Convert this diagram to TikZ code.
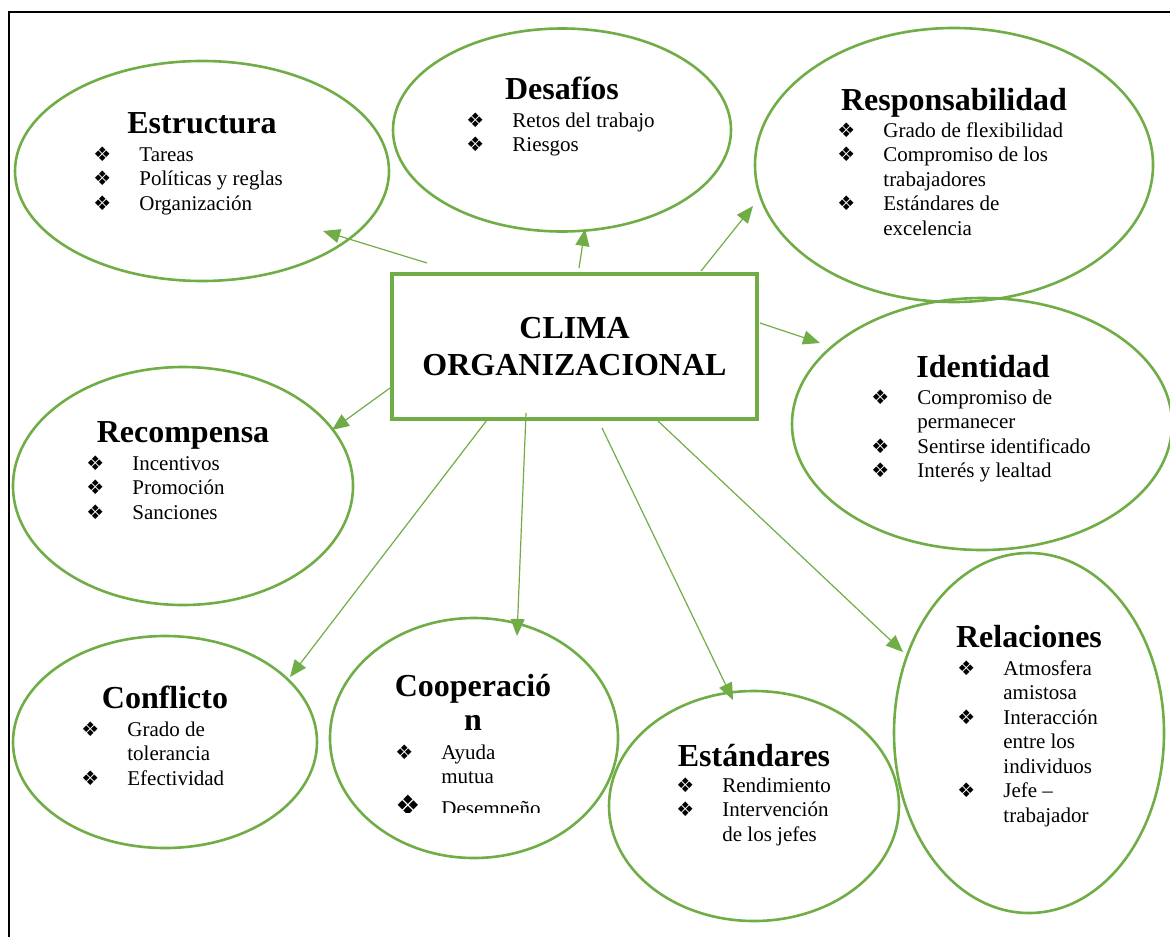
\documentclass[tikz,border=0pt]{standalone}
\usepackage{fontspec}
\setmainfont{Liberation Serif}
\newfontfamily\dejavu{DejaVu Sans}
\usetikzlibrary{shapes.geometric,arrows.meta}
\definecolor{verde}{RGB}{112,173,71}
\newcommand{\vin}{{\dejavu\fontsize{10pt}{10pt}\selectfont ❖}}
\newcommand{\listado}[1]{\begin{tabular}[t]{@{}p{23pt}@{}l@{}}#1\end{tabular}}
\begin{document}
\begin{tikzpicture}[x=0.5pt,y=-0.5pt,
    globo/.style={draw=verde, line width=1.3pt, ellipse, inner sep=0pt},
    caja/.style={draw=verde, line width=1.6pt, inner sep=0pt, align=center,
      font=\fontsize{16pt}{18.5pt}\selectfont\bfseries},
    titulo/.style={anchor=base, inner sep=0pt, font=\fontsize{16pt}{18.5pt}\selectfont\bfseries},
    lista/.style={anchor=base west, inner sep=0pt, font=\fontsize{10.5pt}{12.25pt}\selectfont},
    flecha/.style={draw=verde, line width=0.6pt, -{Triangle[length=8.5pt,width=7pt]}}]
  \useasboundingbox (0,0) rectangle (1170,937);
  % marco
  \draw[line width=1pt] (9,937) -- (9,12) -- (1170,12);
  % centro
  \node[caja, minimum width=182.5pt, minimum height=72.5pt] (clima) at (574.5,346.5)
    {CLIMA\\ORGANIZACIONAL};
  % globos
  \foreach \n/\cx/\cy/\rx/\ry in {estructura/202/171/187/110, desafios/562/130/169/101.5,
      responsabilidad/954/165/199/137, identidad/982/424/190/126,
      recompensa/183/486/170/119, conflicto/165/742/152/106,
      cooperacion/474/738/144/120, estandares/754/806/145/115,
      relaciones/1029/733/135/180}
    {
      \node[globo, minimum width=\rx pt, minimum height=\ry pt] (\n) at (\cx,\cy) {};
    }
  % titulos
  \node[titulo] (t-estructura) at (202,133) {Estructura};
  \node[titulo] (t-desafios) at (562,99) {Desafíos};
  \node[titulo] (t-responsabilidad) at (954,110) {Responsabilidad};
  \node[titulo] (t-identidad) at (983,377) {Identidad};
  \node[titulo] (t-recompensa) at (183,442) {Recompensa};
  \node[titulo] (t-conflicto) at (165,708) {Conflicto};
  \node[titulo] (t-cooperacion) at (473,696) {Cooperació};
  \node[titulo] (t-cooperacion2) at (473,730) {n};
  \node[titulo] (t-estandares) at (754,766) {Estándares};
  \node[titulo] (t-relaciones) at (1029,647) {Relaciones};
  % listas
  \node[lista] (l-estructura) at (93,161)
    {\listado{\vin & Tareas\\ \vin & Políticas y reglas\\ \vin & Organización}};
  \node[lista] (l-desafios) at (466,127)
    {\listado{\vin & Retos del trabajo\\ \vin & Riesgos}};
  \node[lista] (l-responsabilidad) at (837,137)
    {\listado{\vin & Grado de flexibilidad\\ \vin & Compromiso de los\\ & trabajadores\\
      \vin & Estándares de\\ & excelencia}};
  \node[lista] (l-identidad) at (871,404)
    {\listado{\vin & Compromiso de\\ & permanecer\\ \vin & Sentirse identificado\\
      \vin & Interés y lealtad}};
  \node[lista] (l-recompensa) at (86,470)
    {\listado{\vin & Incentivos\\ \vin & Promoción\\ \vin & Sanciones}};
  \node[lista] (l-conflicto) at (81,736)
    {\listado{\vin & Grado de\\ & tolerancia\\ \vin & Efectividad}};
  \node[lista] (l-cooperacion) at (395,759)
    {\listado{\vin & Ayuda\\ & mutua}};
  \begin{scope}
    \clip (380,785) rectangle (560,812);
    \node[lista] (l-cooperacion2) at (395,815)
      {\listado{{\dejavu\fontsize{14pt}{14pt}\selectfont ❖} & Desempeño}};
  \end{scope}
  \node[lista] (l-estandares) at (676,792)
    {\listado{\vin & Rendimiento\\ \vin & Intervención\\ & de los jefes}};
  \node[lista] (l-relaciones) at (957,675)
    {\listado{\vin & Atmosfera\\ & amistosa\\ \vin & Interacción\\ & entre los\\
      & individuos\\ \vin & Jefe –\\ & trabajador}};
  % flechas
  \coordinate (c-estructura) at (427,263);      \coordinate (p-estructura) at (323,231);
  \coordinate (c-desafios) at (579,268);        \coordinate (p-desafios) at (585,229);
  \coordinate (c-responsabilidad) at (701,271); \coordinate (p-responsabilidad) at (753,206);
  \coordinate (c-identidad) at (760,323);       \coordinate (p-identidad) at (820,343);
  \coordinate (c-recompensa) at (390,388);      \coordinate (p-recompensa) at (332,430);
  \coordinate (c-conflicto) at (487,420);       \coordinate (p-conflicto) at (290,677);
  \coordinate (c-cooperacion) at (526,413);     \coordinate (p-cooperacion) at (517,636);
  \coordinate (c-estandares) at (602,428);      \coordinate (p-estandares) at (733,700);
  \coordinate (c-relaciones) at (658,421);      \coordinate (p-relaciones) at (903,652);
  \foreach \n in {estructura,desafios,responsabilidad,identidad,recompensa,
      conflicto,cooperacion,estandares,relaciones}
    \draw[flecha] (c-\n) -- (p-\n);
\end{tikzpicture}
\end{document}
